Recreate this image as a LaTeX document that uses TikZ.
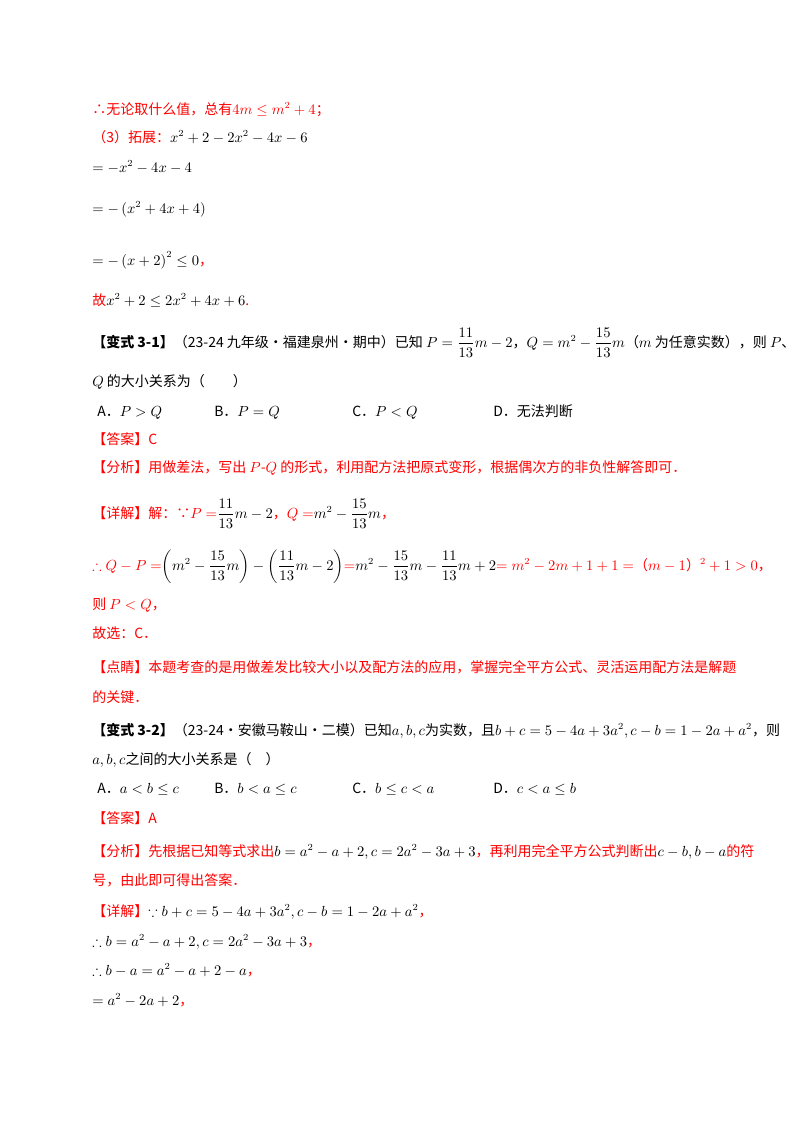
\documentclass[tikz,border=0pt]{standalone}
\usepackage{amsmath,amssymb}
\usepackage{fontspec}
\newfontfamily\cjk{Noto Sans CJK SC}
\setmainfont{Noto Sans CJK SC}
\begin{document}
\begin{tikzpicture}[x=0.75pt,y=-0.75pt,
  t/.style={anchor=base west,inner sep=0pt,font=\fontsize{10.5pt}{12pt}\selectfont}]
\useasboundingbox (0,0) rectangle (800,1132);
\fill[white] (0,0) rectangle (800,1132);
\def\R{\color{red}}
\node[t] (l1) at (92,114) {\R ∴无论取什么值，总有$4m\le m^2+4$；};
\node[t] (l2) at (92,142) {\R（3）拓展：\color{black}$x^2+2-2x^2-4x-6$};
\node[t] (l3) at (92,172) {$=-x^2-4x-4$};
\node[t] (l4) at (92,213) {$=-\left(x^2+4x+4\right)$};
\node[t] (l5) at (92,265) {$=-\left(x+2\right)^2\le 0${\R ，}};
\node[t] (l6) at (92,305) {{\R 故}$x^2+2\le 2x^2+4x+6${\R .}};
\node[t] (l7) at (92,347) {\textbf{【变式 3-1】}（23-24 九年级·福建泉州·期中）已知 $P=\dfrac{11}{13}m-2$，$Q=m^2-\dfrac{15}{13}m$（$m$ 为任意实数），则 $P$、};
\node[t] (l8) at (92,386) {$Q$ 的大小关系为（\quad\quad）};
\node[t] (oa) at (97,416) {A．$P>Q$};
\node[t] (ob) at (214,416) {B．$P=Q$};
\node[t] (oc) at (352,416) {C．$P<Q$};
\node[t] (od) at (493,416) {D．无法判断};
\node[t] (l9) at (92,444) {\R 【答案】C};
\node[t] (l10) at (92,472) {\R 【分析】用做差法，写出 $P$-$Q$ 的形式，利用配方法把原式变形，根据偶次方的非负性解答即可．};
\node[t] (l11) at (92,518) {\R 【详解】解：∵$P=${\color{black}$\dfrac{11}{13}m-2$}，$Q=${\color{black}$m^2-\dfrac{15}{13}m$}，};
\node[t] (l12) at (92,570) {\R $\therefore Q-P=${\color{black}$\left(m^2-\dfrac{15}{13}m\right)-\left(\dfrac{11}{13}m-2\right)$}$=${\color{black}$m^2-\dfrac{15}{13}m-\dfrac{11}{13}m+2$}$=m^2-2m+1+1=$（$m-1$）$^2+1>0$，};
\node[t] (l13) at (92,609) {\R 则 $P<Q$，};
\node[t] (l14) at (92,638) {\R 故选：C．};
\node[t] (l15) at (92,672) {\R 【点睛】本题考查的是用做差发比较大小以及配方法的应用，掌握完全平方公式、灵活运用配方法是解题};
\node[t] (l16) at (92,702) {\R 的关键．};
\node[t] (l17) at (92,735) {\textbf{【变式 3-2】}（23-24·安徽马鞍山·二模）已知$a,b,c$为实数，且$b+c=5-4a+3a^2,c-b=1-2a+a^2$，则};
\node[t] (l18) at (92,764) {$a,b,c$之间的大小关系是（\quad）};
\node[t] (pa) at (97,793) {A．$a<b\le c$};
\node[t] (pb) at (214,793) {B．$b<a\le c$};
\node[t] (pc) at (352,793) {C．$b\le c<a$};
\node[t] (pd) at (493,793) {D．$c<a\le b$};
\node[t] (l19) at (92,823) {\R 【答案】A};
\node[t] (l20) at (92,856) {\R 【分析】先根据已知等式求出{\color{black}$b=a^2-a+2,c=2a^2-3a+3$}，再利用完全平方公式判断出{\color{black}$c-b,b-a$}的符};
\node[t] (l21) at (92,885) {\R 号，由此即可得出答案．};
\node[t] (l22) at (92,916) {{\R 【详解】}$\because b+c=5-4a+3a^2,c-b=1-2a+a^2${\R ，}};
\node[t] (l23) at (92,946) {$\therefore b=a^2-a+2,c=2a^2-3a+3${\R ，}};
\node[t] (l24) at (92,975) {$\therefore b-a=a^2-a+2-a${\R ，}};
\node[t] (l25) at (92,1005) {$=a^2-2a+2${\R ，}};
\end{tikzpicture}
\end{document}
